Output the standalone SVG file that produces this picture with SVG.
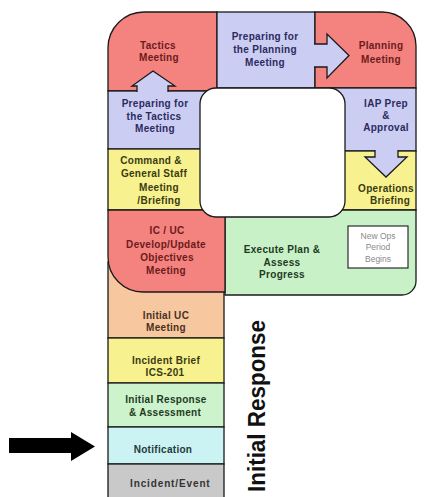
<svg xmlns="http://www.w3.org/2000/svg" width="438" height="497" viewBox="0 0 438 497">
<style>
.b{stroke:#1a1a1a;stroke-width:1.3;stroke-linejoin:miter}
.red{fill:#f4827f}.lav{fill:#cccdf3}.yel{fill:#f7f28f}.grn{fill:#c8f1c8}
.org{fill:#f7c8a0}.grn2{fill:#cdf3cd}.cyan{fill:#ccf3f3}.gry{fill:#c9c9c9}
.t{font-family:"Liberation Sans",Arial,sans-serif;font-weight:bold;font-size:10px;text-anchor:middle;letter-spacing:0.3px}
.cr{fill:#6a1c1c}.cb{fill:#2b2b5e}.co{fill:#3b3b12}.cg{fill:#1e3a1e}.cn{fill:#4a3020}.ct{fill:#1e3a3a}.ck{fill:#333}
</style>
<rect width="438" height="497" fill="#fff"/>
<g id="tactics-meeting">
<path class="b red" d="M108,91 V48 A36,36 0 0 1 144,12 H217 V91 Z"/>
<text class="t cr" x="158" y="49">Tactics</text>
<text class="t cr" x="159" y="61">Meeting</text>
</g>
<g id="preparing-planning">
<rect class="b lav" x="217" y="12" width="98" height="76"/>
<text class="t cb" x="265" y="40">Preparing for</text>
<text class="t cb" x="265" y="53">the Planning</text>
<text class="t cb" x="265" y="66">Meeting</text>
</g>
<g id="planning-meeting">
<path class="b red" d="M315,12 H382 A34,34 0 0 1 416,46 V88 H315 Z"/>
<text class="t cr" x="381" y="49">Planning</text>
<text class="t cr" x="381" y="63">Meeting</text>
</g>
<g id="preparing-tactics">
<rect class="b lav" x="108" y="91" width="109" height="58"/>
<text class="t cb" x="155" y="107">Preparing for</text>
<text class="t cb" x="154" y="120">the Tactics</text>
<text class="t cb" x="155" y="132">Meeting</text>
</g>
<g id="command-staff">
<rect class="b yel" x="108" y="149" width="109" height="61"/>
<text class="t co" x="151" y="164">Command &amp;</text>
<text class="t co" x="154" y="177">General Staff</text>
<text class="t co" x="159" y="191">Meeting</text>
<text class="t co" x="159" y="204">/Briefing</text>
</g>
<g id="iap-prep">
<rect class="b lav" x="330" y="88" width="86" height="63"/>
<text class="t cb" x="386" y="107">IAP Prep</text>
<text class="t cb" x="386" y="119">&amp;</text>
<text class="t cb" x="386" y="131">Approval</text>
</g>
<g id="operations-briefing">
<rect class="b yel" x="330" y="151" width="86" height="59"/>
<text class="t co" x="386" y="192">Operations</text>
<text class="t co" x="390" y="204">Briefing</text>
</g>
<g id="execute">
<path class="b grn" d="M225,210 H416 V281 A14,14 0 0 1 402,295 H225 Z"/>
<text class="t cg" x="282" y="253">Execute Plan &amp;</text>
<text class="t cg" x="282" y="266">Assess</text>
<text class="t cg" x="282" y="278">Progress</text>
</g>
<g id="new-ops-period">
<rect x="348" y="226" width="60" height="42" fill="#fff" stroke="#1a1a1a" stroke-width="1.1"/>
<text x="378" y="239" font-family="Liberation Sans,Arial,sans-serif" font-size="8.5" fill="#8a8a8a" text-anchor="middle">New Ops</text>
<text x="378" y="250" font-family="Liberation Sans,Arial,sans-serif" font-size="8.5" fill="#8a8a8a" text-anchor="middle">Period</text>
<text x="378" y="262" font-family="Liberation Sans,Arial,sans-serif" font-size="8.5" fill="#8a8a8a" text-anchor="middle">Begins</text>
</g>
<g id="initial-uc">
<rect class="b org" x="108" y="262" width="116" height="76"/>
<text class="t cn" x="166" y="319">Initial UC</text>
<text class="t cn" x="166" y="331">Meeting</text>
</g>
<g id="ic-uc">
<path class="b red" d="M108,210 H225 V292 H143 A35,35 0 0 1 108,257 Z"/>
<text class="t cr" x="167" y="234">IC / UC</text>
<text class="t cr" x="166" y="248">Develop/Update</text>
<text class="t cr" x="167" y="261">Objectives</text>
<text class="t cr" x="166" y="274">Meeting</text>
</g>
<g id="incident-brief">
<rect class="b yel" x="108" y="338" width="116" height="45"/>
<text class="t co" x="166" y="364">Incident Brief</text>
<text class="t co" x="165" y="376">ICS-201</text>
</g>
<g id="initial-response-assessment">
<rect class="b grn2" x="108" y="383" width="116" height="44"/>
<text class="t cg" x="166" y="403">Initial Response</text>
<text class="t cg" x="165" y="416">&amp; Assessment</text>
</g>
<g id="notification">
<rect class="b cyan" x="108" y="427" width="116" height="37"/>
<text class="t ct" x="163" y="453">Notification</text>
</g>
<g id="incident-event">
<rect class="b gry" x="108" y="464" width="116" height="40"/>
<text class="t ck" x="170" y="487" textLength="80">Incident/Event</text>
</g>
<g id="center-box">
<rect x="200" y="88" width="145" height="129" rx="16" fill="#fff" stroke="#1a1a1a" stroke-width="1.3"/>
</g>
<g id="connectors">
<path class="b lav" d="M137,92 V86 H132 L153,71 L175,86 H168 V92"/>
<path class="b lav" d="M314,44 H327 V34 L349,55.5 L327,78 V67 H314"/>
<path class="b lav" d="M375,150 V157 H365 L386,177 L407,157 H398 V150"/>
<polygon points="9,438 71,438 71,432 95,446.5 71,461 71,453 9,453" fill="#000"/>
</g>
<text transform="translate(265,406) rotate(-90)" font-family="Liberation Sans Narrow,Liberation Sans,Arial,sans-serif" font-weight="bold" font-size="24" text-anchor="middle" textLength="172" lengthAdjust="spacingAndGlyphs" fill="#111">Initial Response</text>
</svg>
